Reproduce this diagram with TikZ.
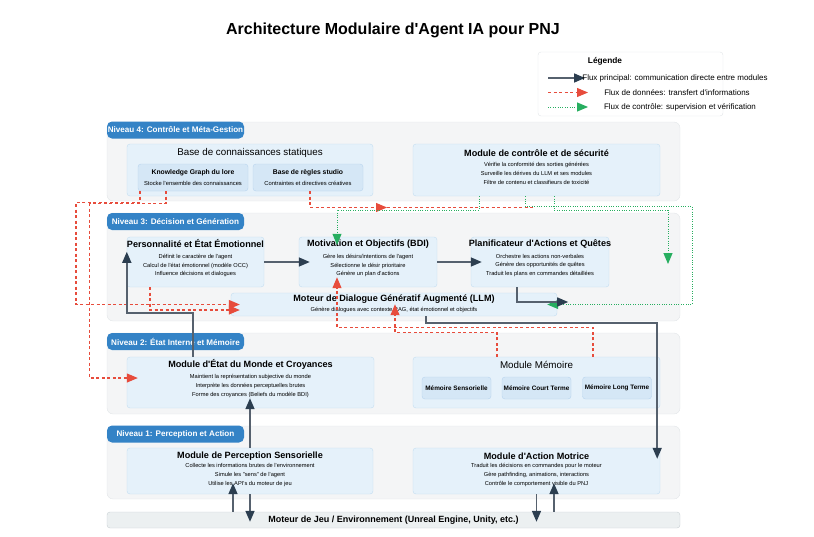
\documentclass[tikz,border=0pt]{standalone}
\usepackage{fontspec}
\setmainfont{Liberation Sans}[Ligatures=TeXOff]
\usepackage{xcolor}
\usepackage{tikz}
\usetikzlibrary{arrows.meta}

\definecolor{panelbg}{HTML}{F4F5F6}
\definecolor{panelline}{HTML}{E2E5E8}
\definecolor{badgebg}{HTML}{3483C6}
\definecolor{boxbg}{HTML}{E5F1FA}
\definecolor{boxline}{HTML}{C3DDF1}
\definecolor{subbg}{HTML}{D5E7F6}
\definecolor{subline}{HTML}{B8D5EE}
\definecolor{enginebg}{HTML}{ECF0F1}
\definecolor{engineline}{HTML}{C8D0D4}
\definecolor{flowline}{HTML}{56616E}
\definecolor{flowhead}{HTML}{2C3E50}
\definecolor{datared}{HTML}{E74C3C}
\definecolor{ctrlgreen}{HTML}{27AE60}

\begin{document}
\begin{tikzpicture}[x=1pt, y=-1pt,
    panel/.style={draw=panelline, fill=panelbg, rounded corners=6pt, minimum width=573pt, inner sep=0pt},
    badge/.style={fill=badgebg, rounded corners=5pt, minimum width=137pt, minimum height=17pt, inner sep=0pt, text=white, font=\bfseries\fontsize{8.1}{9}\selectfont},
    modbox/.style={draw=boxline, fill=boxbg, rounded corners=3pt, inner sep=0pt},
    subbox/.style={draw=subline, fill=subbg, rounded corners=3pt, inner sep=0pt},
    modtitle/.style={inner sep=0pt, font=\bfseries\fontsize{9.1}{10}\selectfont},
    grouptitle/.style={inner sep=0pt, font=\fontsize{9.8}{11}\selectfont},
    modlines/.style={inner sep=0pt, align=center, font=\fontsize{5.7}{8.8}\selectfont},
    subhead/.style={inner sep=0pt, font=\bfseries\fontsize{6.8}{7}\selectfont},
    sublines/.style={inner sep=0pt, font=\fontsize{5.8}{6}\selectfont},
    legtext/.style={inner sep=0pt, font=\fontsize{8}{9}\selectfont},
    mainflow/.style={draw=flowline, line width=1.6pt, -{Triangle[length=11pt,width=9pt,color=flowhead]}},
    dataflow/.style={draw=datared, line width=1.1pt, dash pattern=on 3pt off 2.5pt, -{Triangle[length=11pt,width=9pt]}},
    ctrlflow/.style={draw=ctrlgreen, line width=1pt, dash pattern=on 1pt off 1.4pt, -{Triangle[length=11pt,width=9pt]}}
]
    \useasboundingbox (0,0) rectangle (814,536);

    \node[font=\bfseries\fontsize{16}{18}\selectfont] (title) at (393,30) {Architecture Modulaire d'Agent IA pour PNJ};

    \node[draw=panelline, fill=white, rounded corners=3pt, minimum width=185pt, minimum height=64pt, inner sep=0pt] (legend) at (630.5,84) {};
    \node[font=\bfseries\fontsize{8.3}{9}\selectfont] (legendT) at (605,61) {Légende};
    \coordinate (legA1) at (548,78);
    \coordinate (legB1) at (585,78);
    \coordinate (legA2) at (548,92.5);
    \coordinate (legB2) at (588,92.5);
    \coordinate (legA3) at (548,107);
    \coordinate (legB3) at (588,107);
    \draw[mainflow] (legA1) -- (legB1);
    \draw[dataflow] (legA2) -- (legB2);
    \draw[ctrlflow] (legA3) -- (legB3);
    \node[legtext] (leg1) at (675,78) {Flux principal: communication directe entre modules};
    \node[legtext] (leg2) at (677,92.5) {Flux de données: transfert d'informations};
    \node[legtext] (leg3) at (680,107) {Flux de contrôle: supervision et vérification};

    \node[panel, minimum height=79pt] (lvl4) at (393.5,161.5) {};
    \node[badge] (lvl4b) at (175.5,130) {Niveau 4: Contrôle et Méta-Gestion};
    \node[panel, minimum height=108pt] (lvl3) at (393.5,267) {};
    \node[badge] (lvl3b) at (175.5,221.5) {Niveau 3: Décision et Génération};
    \node[panel, minimum height=81pt] (lvl2) at (393.5,373.5) {};
    \node[badge] (lvl2b) at (175.5,341.5) {Niveau 2: État Interne et Mémoire};
    \node[panel, minimum height=73pt] (lvl1) at (393.5,462.5) {};
    \node[badge] (lvl1b) at (175.5,434) {Niveau 1: Perception et Action};

    \node[draw=engineline, fill=enginebg, rounded corners=3pt, minimum width=573pt, minimum height=16pt, inner sep=0pt, font=\bfseries\fontsize{9}{10}\selectfont] (engine) at (393.5,520) {Moteur de Jeu / Environnement (Unreal Engine, Unity, etc.)};

    \node[modbox, minimum width=246pt, minimum height=52pt] (base) at (250,170) {};
    \node[grouptitle] (baseT) at (250,153) {Base de connaissances statiques};
    \node[subbox, minimum width=110pt, minimum height=27pt] (kg) at (193,177.5) {};
    \node[subhead] (kgT) at (193,173) {Knowledge Graph du lore};
    \node[sublines] (kgL) at (193,183) {Stocke l'ensemble des connaissances};
    \node[subbox, minimum width=110pt, minimum height=27pt] (regles) at (308,177.5) {};
    \node[subhead] (reglesT) at (308,173) {Base de règles studio};
    \node[sublines] (reglesL) at (308,183) {Contraintes et directives créatives};

    \node[modbox, minimum width=247pt, minimum height=52pt] (secu) at (536.5,170) {};
    \node[modtitle] (secuT) at (536.5,153) {Module de contrôle et de sécurité};
    \node[modlines] (secuL) at (536.5,173.5) {Vérifie la conformité des sorties générées\\Surveille les dérives du LLM et ses modules\\Filtre de contenu et classifieurs de toxicité};

    \node[modbox, minimum width=137pt, minimum height=50pt] (perso) at (195.5,262) {};
    \node[modtitle] (persoT) at (195.5,244) {Personnalité et État Émotionnel};
    \node[modlines] (persoL) at (195.5,265.5) {Définit le caractère de l'agent\\Calcul de l'état émotionnel (modèle OCC)\\Influence décisions et dialogues};

    \node[modbox, minimum width=138pt, minimum height=50pt] (motiv) at (368,262) {};
    \node[modtitle] (motivT) at (368,244) {Motivation et Objectifs (BDI)};
    \node[modlines] (motivL) at (368,265.5) {Gère les désirs/intentions de l'agent\\Sélectionne le désir prioritaire\\Génère un plan d'actions};

    \node[modbox, minimum width=138pt, minimum height=50pt] (plan) at (540,262) {};
    \node[modtitle] (planT) at (540,244) {Planificateur d'Actions et Quêtes};
    \node[modlines] (planL) at (540,265.5) {Orchestre les actions non-verbales\\Génère des opportunités de quêtes\\Traduit les plans en commandes détaillées};

    \node[modbox, minimum width=326pt, minimum height=23pt] (llm) at (394,304.5) {};
    \node[modtitle] (llmT) at (394,299) {Moteur de Dialogue Génératif Augmenté (LLM)};
    \node[modlines] (llmL) at (394,309.5) {Génère dialogues avec contexte RAG, état émotionnel et objectifs};

    \node[modbox, minimum width=247pt, minimum height=51pt] (world) at (250.5,382.5) {};
    \node[modtitle] (worldT) at (250.5,364) {Module d'État du Monde et Croyances};
    \node[modlines] (worldL) at (250.5,386) {Maintient la représentation subjective du monde\\Interprète les données perceptuelles brutes\\Forme des croyances (Beliefs du modèle BDI)};

    \node[modbox, minimum width=247pt, minimum height=51pt] (mem) at (536.5,382.5) {};
    \node[grouptitle] (memT) at (536.5,365) {Module Mémoire};
    \node[subbox, minimum width=69pt, minimum height=22pt, font=\bfseries\fontsize{6.4}{7}\selectfont] (msens) at (456.5,388) {Mémoire Sensorielle};
    \node[subbox, minimum width=69pt, minimum height=22pt, font=\bfseries\fontsize{6.4}{7}\selectfont] (mcourt) at (536.5,388) {Mémoire Court Terme};
    \node[subbox, minimum width=69pt, minimum height=22pt, font=\bfseries\fontsize{6.4}{7}\selectfont] (mlong) at (617,388) {Mémoire Long Terme};

    \node[modbox, minimum width=246pt, minimum height=46pt] (perc) at (250,471) {};
    \node[modtitle] (percT) at (250,456) {Module de Perception Sensorielle};
    \node[modlines] (percL) at (250,475) {Collecte les informations brutes de l'environnement\\Simule les "sens" de l'agent\\Utilise les API's du moteur de jeu};

    \node[modbox, minimum width=247pt, minimum height=46pt] (act) at (536.5,471) {};
    \node[modtitle] (actT) at (536.5,456) {Module d'Action Motrice};
    \node[modlines] (actL) at (536.5,475) {Traduit les décisions en commandes pour le moteur\\Gère pathfinding, animations, interactions\\Contrôle le comportement visible du PNJ};

    \coordinate (rulesMid) at (387,207.5);
    \coordinate (rulesEnd) at (535,207.5);
    \coordinate (ctrlEnd) at (668,264);

    \draw[dataflow] ([xshift=-53pt]kg.south) -- ++(0,11) -| (76,304.5) -- ([xshift=9pt]llm.west);
    \draw[dataflow] ([xshift=-27pt]kg.south) -- ++(0,12) -| ([xshift=-37pt,yshift=4.5pt]world.west) -- ([xshift=11pt,yshift=4.5pt]world.west);
    \draw[dataflow] ([xshift=2pt]regles.south) |- (rulesMid);
    \draw[dataflow,-] (rulesMid) -- (rulesEnd);
    \draw[dataflow] ([xshift=-45.5pt]perso.south) |- ([xshift=9pt,yshift=-5.5pt]llm.west);
    \draw[dataflow] ([xshift=56.5pt]mem.north) -- ++(0,-29) -| ([xshift=-31pt,yshift=10pt]motiv.south);
    \draw[dataflow] ([xshift=-39.5pt]mem.north) -- ++(0,-24) -| ([xshift=1pt,yshift=12pt]llm.south);

    \draw[ctrlflow] ([xshift=-57.5pt]secu.south) -- ++(0,14) -| ([xshift=-31pt,yshift=-8pt]motiv.north);
    \draw[ctrlflow] ([xshift=-11.5pt]secu.south) -- ++(0,10) -| (692,304.5) -- ([xshift=-10pt]llm.east);
    \draw[ctrlflow] ([xshift=17.5pt]secu.south) -- ++(0,14) -| (ctrlEnd);

    \draw[mainflow] (perso.east) -- ([xshift=11pt]motiv.west);
    \draw[mainflow] (motiv.east) -- ([xshift=11pt]plan.west);
    \draw[mainflow] ([xshift=-23pt]plan.south) |- ([xshift=11pt,yshift=2.5pt]llm.east);
    \draw[mainflow] ([xshift=-57.5pt]world.north) -- ++(0,-44) -| ([yshift=-15pt]perso.north west);
    \draw[mainflow] ([xshift=32pt]llm.south) -- ++(0,7) -| ([xshift=-3pt,yshift=-11pt]act.north east);
    \draw[mainflow] (perc.north) -- ([yshift=10pt]perc.north |- world.south);
    \draw[mainflow] (perc.south) -- ([yshift=-10pt]perc.south |- engine.north);
    \draw[mainflow] ([xshift=-17pt]perc.south |- engine.north) -- ([xshift=-17pt,yshift=11pt]perc.south);
    \draw[mainflow] (act.south) -- ([yshift=-10pt]act.south |- engine.north);
    \draw[mainflow] ([xshift=17.5pt]act.south |- engine.north) -- ([xshift=17.5pt,yshift=11pt]act.south);
\end{tikzpicture}
\end{document}
